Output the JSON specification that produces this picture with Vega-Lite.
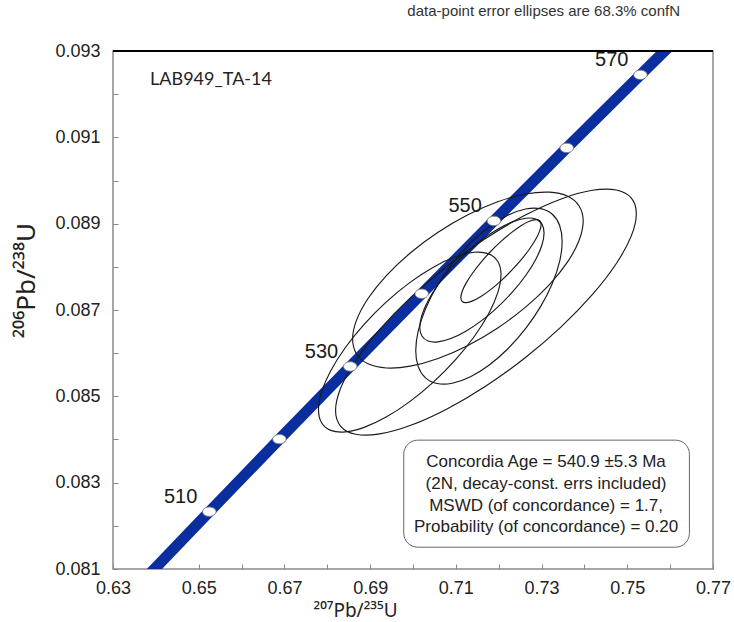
{
  "$schema": "https://vega.github.io/schema/vega-lite/v6.json",
  "autosize": "none",
  "width": 600,
  "height": 518,
  "padding": {"left": 113, "top": 51, "right": 21, "bottom": 53},
  "background": "white",
  "config": {
    "view": {"stroke": "#8a8a8a", "strokeWidth": 1.5},
    "font": "Liberation Sans"
  },
  "title": {
    "text": "data-point error ellipses are 68.3% confN",
    "anchor": "end",
    "orient": "top",
    "frame": "group",
    "dx": -33,
    "offset": 8,
    "baseline": "bottom",
    "fontSize": 15,
    "fontWeight": "normal",
    "font": "Liberation Sans",
    "color": "#333333"
  },
  "datasets": {
    "conc": [
      {"age": 500, "x": 0.63628, "y": 0.08065},
      {"age": 510, "x": 0.652474, "y": 0.082327},
      {"age": 520, "x": 0.668829, "y": 0.084008},
      {"age": 530, "x": 0.685345, "y": 0.085691},
      {"age": 540, "x": 0.702025, "y": 0.087376},
      {"age": 550, "x": 0.718871, "y": 0.089064},
      {"age": 560, "x": 0.735884, "y": 0.090755},
      {"age": 570, "x": 0.753064, "y": 0.092448},
      {"age": 580, "x": 0.770413, "y": 0.094144}
    ],
    "box": [
      {"x1": 0.69784, "x2": 0.7645, "y1": 0.083985, "y2": 0.081505}
    ],
    "ell": [
      {"e":1,"i":0,"x":0.75211,"y":0.089232},{"e":1,"i":1,"x":0.75091,"y":0.089597},{"e":1,"i":2,"x":0.74741,"y":0.089781},{"e":1,"i":3,"x":0.74183,"y":0.089773},{"e":1,"i":4,"x":0.734565,"y":0.089573},{"e":1,"i":5,"x":0.726101,"y":0.089193},{"e":1,"i":6,"x":0.71702,"y":0.088662},{"e":1,"i":7,"x":0.707939,"y":0.088013},{"e":1,"i":8,"x":0.699475,"y":0.087292},{"e":1,"i":9,"x":0.69221,"y":0.086548},{"e":1,"i":10,"x":0.68663,"y":0.085831},{"e":1,"i":11,"x":0.68313,"y":0.085191},{"e":1,"i":12,"x":0.68193,"y":0.08467},{"e":1,"i":13,"x":0.68313,"y":0.084305},{"e":1,"i":14,"x":0.68663,"y":0.084121},{"e":1,"i":15,"x":0.69221,"y":0.084129},{"e":1,"i":16,"x":0.699475,"y":0.084329},{"e":1,"i":17,"x":0.707939,"y":0.084709},{"e":1,"i":18,"x":0.71702,"y":0.08524},{"e":1,"i":19,"x":0.726101,"y":0.085889},{"e":1,"i":20,"x":0.734565,"y":0.08661},{"e":1,"i":21,"x":0.74183,"y":0.087354},{"e":1,"i":22,"x":0.74741,"y":0.088071},{"e":1,"i":23,"x":0.75091,"y":0.088711},
      {"e":2,"i":0,"x":0.73971,"y":0.089059},{"e":2,"i":1,"x":0.73879,"y":0.089404},{"e":2,"i":2,"x":0.73611,"y":0.089633},{"e":2,"i":3,"x":0.73183,"y":0.089729},{"e":2,"i":4,"x":0.72626,"y":0.089686},{"e":2,"i":5,"x":0.719772,"y":0.089508},{"e":2,"i":6,"x":0.71281,"y":0.089206},{"e":2,"i":7,"x":0.705848,"y":0.088801},{"e":2,"i":8,"x":0.69936,"y":0.08832},{"e":2,"i":9,"x":0.69379,"y":0.087797},{"e":2,"i":10,"x":0.68951,"y":0.087266},{"e":2,"i":11,"x":0.68683,"y":0.086765},{"e":2,"i":12,"x":0.68591,"y":0.086327},{"e":2,"i":13,"x":0.68683,"y":0.085982},{"e":2,"i":14,"x":0.68951,"y":0.085753},{"e":2,"i":15,"x":0.69379,"y":0.085657},{"e":2,"i":16,"x":0.69936,"y":0.0857},{"e":2,"i":17,"x":0.705848,"y":0.085878},{"e":2,"i":18,"x":0.71281,"y":0.08618},{"e":2,"i":19,"x":0.719772,"y":0.086585},{"e":2,"i":20,"x":0.72626,"y":0.087066},{"e":2,"i":21,"x":0.73183,"y":0.087589},{"e":2,"i":22,"x":0.73611,"y":0.08812},{"e":2,"i":23,"x":0.73879,"y":0.088621},
      {"e":3,"i":0,"x":0.7348,"y":0.088586},{"e":3,"i":1,"x":0.734218,"y":0.088957},{"e":3,"i":2,"x":0.732511,"y":0.089217},{"e":3,"i":3,"x":0.729797,"y":0.089348},{"e":3,"i":4,"x":0.72626,"y":0.08934},{"e":3,"i":5,"x":0.72214,"y":0.089195},{"e":3,"i":6,"x":0.71772,"y":0.088923},{"e":3,"i":7,"x":0.7133,"y":0.088541},{"e":3,"i":8,"x":0.70918,"y":0.088076},{"e":3,"i":9,"x":0.705643,"y":0.08756},{"e":3,"i":10,"x":0.702929,"y":0.087028},{"e":3,"i":11,"x":0.701222,"y":0.086515},{"e":3,"i":12,"x":0.70064,"y":0.086058},{"e":3,"i":13,"x":0.701222,"y":0.085687},{"e":3,"i":14,"x":0.702929,"y":0.085427},{"e":3,"i":15,"x":0.705643,"y":0.085296},{"e":3,"i":16,"x":0.70918,"y":0.085304},{"e":3,"i":17,"x":0.7133,"y":0.085449},{"e":3,"i":18,"x":0.71772,"y":0.085721},{"e":3,"i":19,"x":0.72214,"y":0.086103},{"e":3,"i":20,"x":0.72626,"y":0.086568},{"e":3,"i":21,"x":0.729797,"y":0.087084},{"e":3,"i":22,"x":0.732511,"y":0.087616},{"e":3,"i":23,"x":0.734218,"y":0.088129},
      {"e":4,"i":0,"x":0.73058,"y":0.088785},{"e":4,"i":1,"x":0.730086,"y":0.08899},{"e":4,"i":2,"x":0.728637,"y":0.089106},{"e":4,"i":3,"x":0.726333,"y":0.089126},{"e":4,"i":4,"x":0.72333,"y":0.089048},{"e":4,"i":5,"x":0.719833,"y":0.088878},{"e":4,"i":6,"x":0.71608,"y":0.088627},{"e":4,"i":7,"x":0.712327,"y":0.088312},{"e":4,"i":8,"x":0.70883,"y":0.087956},{"e":4,"i":9,"x":0.705827,"y":0.087581},{"e":4,"i":10,"x":0.703523,"y":0.087214},{"e":4,"i":11,"x":0.702074,"y":0.08688},{"e":4,"i":12,"x":0.70158,"y":0.086601},{"e":4,"i":13,"x":0.702074,"y":0.086396},{"e":4,"i":14,"x":0.703523,"y":0.08628},{"e":4,"i":15,"x":0.705827,"y":0.08626},{"e":4,"i":16,"x":0.70883,"y":0.086338},{"e":4,"i":17,"x":0.712327,"y":0.086508},{"e":4,"i":18,"x":0.71608,"y":0.086759},{"e":4,"i":19,"x":0.719833,"y":0.087074},{"e":4,"i":20,"x":0.72333,"y":0.08743},{"e":4,"i":21,"x":0.726333,"y":0.087805},{"e":4,"i":22,"x":0.728637,"y":0.088172},{"e":4,"i":23,"x":0.730086,"y":0.088506},
      {"e":5,"i":0,"x":0.72989,"y":0.08898},{"e":5,"i":1,"x":0.729571,"y":0.089069},{"e":5,"i":2,"x":0.728636,"y":0.089095},{"e":5,"i":3,"x":0.727148,"y":0.089055},{"e":5,"i":4,"x":0.72521,"y":0.088952},{"e":5,"i":5,"x":0.722952,"y":0.088793},{"e":5,"i":6,"x":0.72053,"y":0.08859},{"e":5,"i":7,"x":0.718108,"y":0.088355},{"e":5,"i":8,"x":0.71585,"y":0.088105},{"e":5,"i":9,"x":0.713912,"y":0.087858},{"e":5,"i":10,"x":0.712424,"y":0.087628},{"e":5,"i":11,"x":0.711489,"y":0.087434},{"e":5,"i":12,"x":0.71117,"y":0.087286},{"e":5,"i":13,"x":0.711489,"y":0.087197},{"e":5,"i":14,"x":0.712424,"y":0.087171},{"e":5,"i":15,"x":0.713912,"y":0.087211},{"e":5,"i":16,"x":0.71585,"y":0.087314},{"e":5,"i":17,"x":0.718108,"y":0.087473},{"e":5,"i":18,"x":0.72053,"y":0.087676},{"e":5,"i":19,"x":0.722952,"y":0.087911},{"e":5,"i":20,"x":0.72521,"y":0.088161},{"e":5,"i":21,"x":0.727148,"y":0.088408},{"e":5,"i":22,"x":0.728636,"y":0.088638},{"e":5,"i":23,"x":0.729571,"y":0.088832},
      {"e":6,"i":0,"x":0.72053,"y":0.087821},{"e":6,"i":1,"x":0.719804,"y":0.088124},{"e":6,"i":2,"x":0.717677,"y":0.0883},{"e":6,"i":3,"x":0.714294,"y":0.088337},{"e":6,"i":4,"x":0.709885,"y":0.088232},{"e":6,"i":5,"x":0.70475,"y":0.087993},{"e":6,"i":6,"x":0.69924,"y":0.087635},{"e":6,"i":7,"x":0.69373,"y":0.087183},{"e":6,"i":8,"x":0.688595,"y":0.086668},{"e":6,"i":9,"x":0.684186,"y":0.086125},{"e":6,"i":10,"x":0.680803,"y":0.085591},{"e":6,"i":11,"x":0.678676,"y":0.085102},{"e":6,"i":12,"x":0.67795,"y":0.084691},{"e":6,"i":13,"x":0.678676,"y":0.084388},{"e":6,"i":14,"x":0.680803,"y":0.084212},{"e":6,"i":15,"x":0.684186,"y":0.084175},{"e":6,"i":16,"x":0.688595,"y":0.08428},{"e":6,"i":17,"x":0.69373,"y":0.084519},{"e":6,"i":18,"x":0.69924,"y":0.084877},{"e":6,"i":19,"x":0.70475,"y":0.085329},{"e":6,"i":20,"x":0.709885,"y":0.085844},{"e":6,"i":21,"x":0.714294,"y":0.086387},{"e":6,"i":22,"x":0.717677,"y":0.086921},{"e":6,"i":23,"x":0.719804,"y":0.08741}
    ]
  },
  "layer": [
    {
      "data": {"name": "conc"},
      "mark": {"type": "line", "color": "#0b2e9e", "strokeWidth": 11, "clip": true, "strokeCap": "butt"},
      "encoding": {
        "x": {
          "field": "x", "type": "quantitative",
          "scale": {"domain": [0.63, 0.77], "nice": false, "zero": false},
          "axis": {
            "values": [0.63,0.64,0.65,0.66,0.67,0.68,0.69,0.70,0.71,0.72,0.73,0.74,0.75,0.76,0.77],
            "format": ".2f",
            "labelExpr": "round(datum.value*100) % 2 == 1 ? datum.label : ''",
            "grid": false, "domain": false,
            "tickSize": -5, "tickColor": "#888888", "tickWidth": 1,
            "labelFontSize": 18, "labelColor": "#222222", "labelFont": "Liberation Sans",
            "labelPadding": 15, "labelFlush": false, "labelOverlap": false,
            "title": "²⁰⁷Pb/²³⁵U", "titleFontSize": 19, "titleFontWeight": "normal",
            "titleFont": "Noto Sans", "titleColor": "#222222",
            "titleX": 242, "titleY": 47, "titleBaseline": "alphabetic", "titleAlign": "center"
          }
        },
        "y": {
          "field": "y", "type": "quantitative",
          "scale": {"domain": [0.081, 0.093], "nice": false, "zero": false},
          "axis": {
            "values": [0.081,0.082,0.083,0.084,0.085,0.086,0.087,0.088,0.089,0.09,0.091,0.092,0.093],
            "format": ".3f",
            "labelExpr": "round(datum.value*1000) % 2 == 1 ? datum.label : ''",
            "grid": false, "domain": false,
            "tickSize": -5, "tickColor": "#888888", "tickWidth": 1,
            "labelFontSize": 18, "labelColor": "#222222", "labelFont": "Liberation Sans",
            "labelPadding": 18, "labelFlush": false, "labelOverlap": false,
            "title": "²⁰⁶Pb/²³⁸U", "titleFontSize": 26, "titleFontWeight": "normal",
            "titleFont": "Noto Sans", "titleColor": "#222222",
            "titleX": -87, "titleY": 229, "titleAngle": -90, "titleBaseline": "middle", "titleAlign": "center"
          }
        },
        "order": {"field": "age", "type": "quantitative"}
      }
    },
    {
      "data": {"name": "ell"},
      "mark": {"type": "line", "color": "#1a1a1a", "strokeWidth": 1.15, "interpolate": "cardinal-closed", "clip": true},
      "encoding": {
        "x": {"field": "x", "type": "quantitative"},
        "y": {"field": "y", "type": "quantitative"},
        "detail": {"field": "e", "type": "nominal"},
        "order": {"field": "i", "type": "quantitative"}
      }
    },
    {
      "data": {"name": "conc"},
      "transform": [{"filter": "datum.age >= 510 && datum.age <= 570"}],
      "mark": {"type": "point", "shape": "M -1 0 A 1 0.7 0 1 1 1 0 A 1 0.7 0 1 1 -1 0 Z", "size": 180, "filled": true, "fill": "white", "stroke": "#777777", "strokeWidth": 0.9, "opacity": 1},
      "encoding": {
        "x": {"field": "x", "type": "quantitative"},
        "y": {"field": "y", "type": "quantitative"}
      }
    },
    {
      "data": {"name": "conc"},
      "transform": [{"filter": "datum.age == 510 || datum.age == 530 || datum.age == 550 || datum.age == 570"}],
      "mark": {"type": "text", "align": "right", "baseline": "middle", "dx": -12, "dy": -15, "fontSize": 20, "font": "Liberation Sans", "color": "#1a1a1a"},
      "encoding": {
        "x": {"field": "x", "type": "quantitative"},
        "y": {"field": "y", "type": "quantitative"},
        "text": {"field": "age", "type": "quantitative"}
      }
    },
    {
      "data": {"values": [{}]},
      "mark": {"type": "rule", "color": "#000000", "strokeWidth": 2},
      "encoding": {"y": {"datum": 0.093}}
    },
    {
      "data": {"values": [{}]},
      "mark": {"type": "text", "text": "LAB949_TA-14", "align": "left", "baseline": "middle", "fontSize": 18, "font": "Lato", "color": "#222222"},
      "encoding": {"x": {"datum": 0.63866}, "y": {"datum": 0.092328}}
    },
    {
      "data": {"name": "box"},
      "mark": {"type": "rect", "fill": "white", "stroke": "#666666", "strokeWidth": 1, "cornerRadius": 14},
      "encoding": {
        "x": {"field": "x1", "type": "quantitative"}, "x2": {"field": "x2"},
        "y": {"field": "y1", "type": "quantitative"}, "y2": {"field": "y2"}
      }
    },
    {
      "data": {"values": [{}]},
      "mark": {"type": "text", "text": ["Concordia Age = 540.9 ±5.3 Ma", "(2N, decay-const. errs included)", "MSWD (of concordance) = 1.7,", "Probability (of concordance) = 0.20"], "align": "center", "baseline": "middle", "lineHeight": 21.7, "fontSize": 17, "font": "Liberation Sans", "color": "#222222"},
      "encoding": {"x": {"datum": 0.73105}, "y": {"datum": 0.083475}}
    }
  ]
}
